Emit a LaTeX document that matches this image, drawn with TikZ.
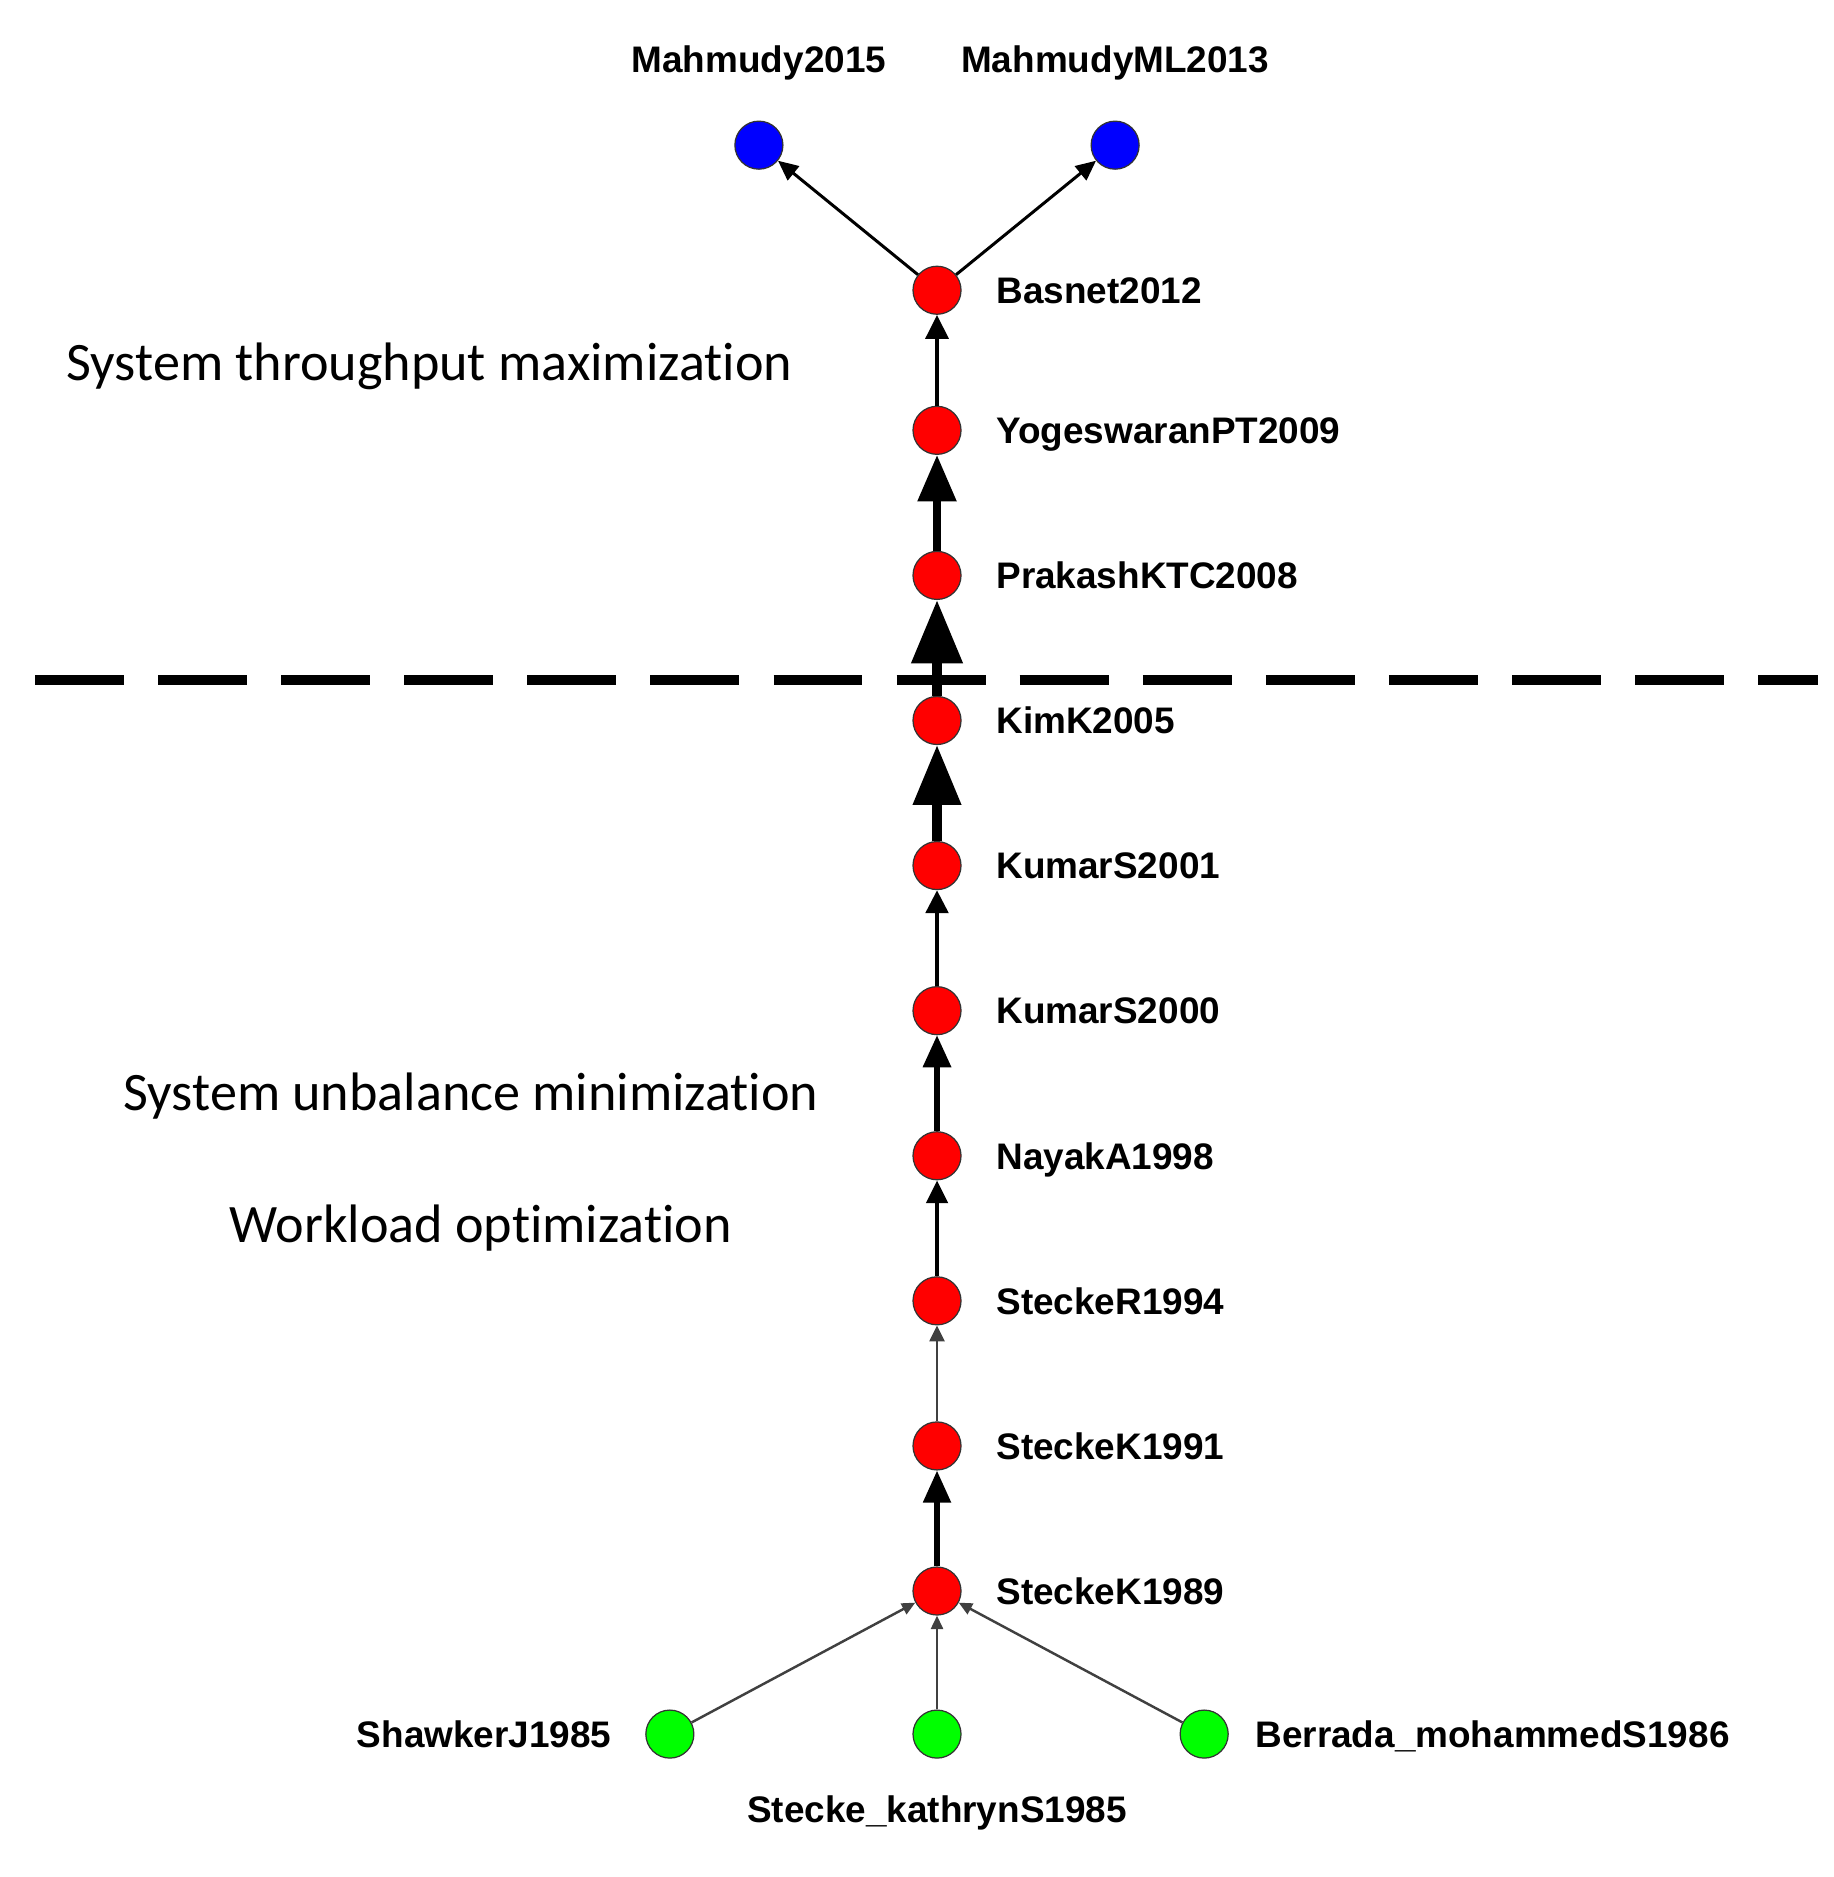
\documentclass[tikz,border=0pt]{standalone}
\usepackage{fontspec}
\setmainfont{Carlito}[Ligatures={NoCommon,NoRequired},Contextuals={NoAlternate}]
\newfontfamily\labelfont{Liberation Sans}
\usepackage{tikz}
\usetikzlibrary{arrows.meta,positioning}
\definecolor{NodeRed}{HTML}{FF0000}
\definecolor{NodeBlue}{HTML}{0000FF}
\definecolor{NodeGreen}{HTML}{00FF00}
\definecolor{RimGray}{HTML}{333333}
\definecolor{LinkGray}{HTML}{404040}
\tikzset{
  % Base paper node
  PN/.style={circle,minimum size=0.48cm,inner sep=0pt,
             draw=RimGray,line width=0.35pt},
  % Colour variants
  pR/.style={PN,fill=NodeRed},
  pB/.style={PN,fill=NodeBlue},
  pG/.style={PN,fill=NodeGreen},
  % Paper label
  lbl/.style={inner sep=0pt,text depth=0pt,
              font=\labelfont\bfseries\fontsize{10.5}{12}\selectfont},
  % Topic text
  topic/.style={inner sep=0pt,anchor=base west,
                font=\fontsize{15.4}{18}\selectfont},
  % Citation link: line width, tip length, tip width
  lnk/.style n args={3}{line width=#1,-{Triangle[length=#2,width=#3]}},
  % Period divider
  divider/.style={line width=3.1pt,dash pattern=on 25.3pt off 9.7pt}
}
\begin{document}
\begin{tikzpicture}[x=0.01cm,y=-0.01cm,node distance=1.45cm]
  \useasboundingbox (0,0) rectangle (1833,1877);
  \coordinate (divL) at (35,680);
  \coordinate (divR) at (1818,680);
  \draw[divider](divL)--(divR);
  % main path
  \node[pR] (sk89) at (937,1591) {};
  \node[pR,on grid,above=of sk89] (sk91) {};
  \node[pR,on grid,above=of sk91] (skr94) {};
  \node[pR,on grid,above=of skr94] (nayak98) {};
  \node[pR,on grid,above=of nayak98] (kumar00) {};
  \node[pR,on grid,above=of kumar00] (kumar01) {};
  \node[pR,on grid,above=of kumar01] (kim05) {};
  \node[pR,on grid,above=of kim05] (prakash08) {};
  \node[pR,on grid,above=of prakash08] (yoges09) {};
  \node[pR,on grid,above=1.40cm of yoges09] (basnet12) {};
  \node[pB,on grid,above left=1.45cm and 1.78cm of basnet12] (mahm15) {};
  \node[pB,on grid,above right=1.45cm and 1.78cm of basnet12] (mahm13) {};
  \node[pG,on grid,below=1.43cm of sk89] (stecke85) {};
  \node[pG,on grid,left=2.67cm of stecke85] (shawker85) {};
  \node[pG,on grid,right=2.67cm of stecke85] (berrada86) {};
  % labels
  \node[lbl,above=0.47cm of mahm15] (mahm15-l) {Mahmudy2015};
  \node[lbl,above=0.47cm of mahm13] (mahm13-l) {MahmudyML2013};
  \node[lbl,right=0.34cm of basnet12] (basnet12-l) {Basnet2012};
  \node[lbl,right=0.34cm of yoges09] (yoges09-l) {YogeswaranPT2009};
  \node[lbl,right=0.34cm of prakash08] (prakash08-l) {PrakashKTC2008};
  \node[lbl,right=0.34cm of kim05] (kim05-l) {KimK2005};
  \node[lbl,right=0.34cm of kumar01] (kumar01-l) {KumarS2001};
  \node[lbl,right=0.34cm of kumar00] (kumar00-l) {KumarS2000};
  \node[lbl,right=0.34cm of nayak98] (nayak98-l) {NayakA1998};
  \node[lbl,right=0.34cm of skr94] (skr94-l) {SteckeR1994};
  \node[lbl,right=0.34cm of sk91] (sk91-l) {SteckeK1991};
  \node[lbl,right=0.34cm of sk89] (sk89-l) {SteckeK1989};
  \node[lbl,left=0.33cm of shawker85] (shawker85-l) {ShawkerJ1985};
  \node[lbl,right=0.26cm of berrada86] (berrada86-l) {Berrada\_mohammedS1986};
  \node[lbl,below=0.36cm of stecke85] (stecke85-l) {Stecke\_kathrynS1985};
  % topics
  \node[topic] (thru) at (66,381) {System throughput maximization};
  \node[topic] (unbal) at (123,1110) {System unbalance minimization};
  \node[topic] (wload) at (229,1242) {Workload optimization};
  % citation links
  \draw[lnk={0.7pt}{3.8pt}{3.4pt},LinkGray](shawker85)--(sk89);
  \draw[lnk={0.7pt}{3.8pt}{3.4pt},LinkGray](stecke85)--(sk89);
  \draw[lnk={0.7pt}{3.8pt}{3.4pt},LinkGray](berrada86)--(sk89);
  \draw[lnk={1.7pt}{9.1pt}{7.6pt}](sk89)--(sk91);
  \draw[lnk={0.8pt}{4.5pt}{4.2pt},LinkGray](sk91)--(skr94);
  \draw[lnk={1.3pt}{6.5pt}{6.0pt}](skr94)--(nayak98);
  \draw[lnk={1.5pt}{9.1pt}{7.8pt}](nayak98)--(kumar00);
  \draw[lnk={1.3pt}{6.5pt}{6.3pt}](kumar00)--(kumar01);
  \draw[lnk={2.6pt}{17pt}{13.2pt}](kumar01)--(kim05);
  \draw[lnk={2.85pt}{18pt}{14pt}](kim05)--(prakash08);
  \draw[lnk={2.2pt}{13.2pt}{10.6pt}](prakash08)--(yoges09);
  \draw[lnk={1.3pt}{6.8pt}{6.4pt}](yoges09)--(basnet12);
  \draw[lnk={0.85pt}{5.7pt}{5.1pt}](basnet12)--(mahm15);
  \draw[lnk={0.85pt}{5.7pt}{5.1pt}](basnet12)--(mahm13);
\end{tikzpicture}
\end{document}
